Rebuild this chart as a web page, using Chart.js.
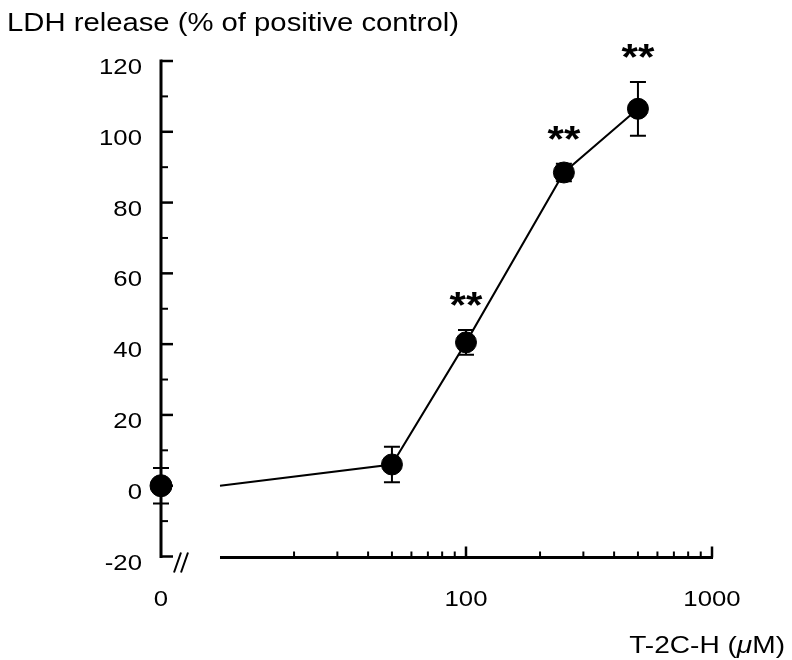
<!DOCTYPE html>
<html>
<head>
<meta charset="utf-8">
<script src="https://cdn.jsdelivr.net/npm/chart.js@4"></script>
<style>
  body { margin: 0; background: #fff; }
  canvas { display: block; }
</style>
</head>
<body>
<canvas id="ldh-chart" width="792" height="660"></canvas>
<script>
// T-2C-H concentrations (uM) and LDH release (% of positive control)
const doses = [50, 100, 250, 500];
const means = [6, 40.5, 88.5, 106.5];
const errors = [5, 3.5, 2.5, 7.6];
const marks = ['', '**', '**', '**'];

// control (0 uM) drawn on the y axis
const controlMean = 0;
const controlError = 5;

// start of the log part of the x axis (after the break)
const lineStartDose = 10;
const xMin = 5.757;
const xMax = 1000;

const yMajorTicks = [-20, 0, 20, 40, 60, 80, 100, 120];
const yMinorTicks = [-10, 10, 30, 50, 70, 90, 110];
const xMajorTicks = [100, 1000];
const xMinorTicks = [20, 30, 40, 50, 60, 70, 80, 90, 200, 300, 400, 500, 600, 700, 800, 900];
const xTickLabels = ['0', '100', '1000'];

const yTitle = 'LDH release (% of positive control)';

const FONT = '"Liberation Sans", Arial, Helvetica, sans-serif';
const SX = 1.17; // glyphs in the reference are a bit wide

function drawText(ctx, str, x, y, size, align, opts) {
  opts = opts || {};
  ctx.save();
  ctx.font = (opts.style || '') + ' ' + (opts.weight || 'normal') + ' ' + size + 'px ' + FONT;
  ctx.fillStyle = '#000';
  ctx.textBaseline = 'alphabetic';
  const w = ctx.measureText(str).width * SX;
  let left = x;
  if (align === 'right') left = x - w;
  else if (align === 'center') left = x - w / 2;
  ctx.translate(left, y);
  ctx.scale(SX, 1);
  ctx.textAlign = 'left';
  ctx.fillText(str, 0, 0);
  ctx.restore();
  return w;
}

function errorBar(ctx, px, yScale, mean, err) {
  const top = yScale.getPixelForValue(mean + err);
  const bot = yScale.getPixelForValue(mean - err);
  ctx.beginPath();
  ctx.moveTo(px, top); ctx.lineTo(px, bot);
  ctx.moveTo(px - 8, top); ctx.lineTo(px + 8, top);
  ctx.moveTo(px - 8, bot); ctx.lineTo(px + 8, bot);
  ctx.stroke();
  return top;
}

const axesPlugin = {
  id: 'brokenAxes',
  beforeDatasetsDraw(chart) {
    const ctx = chart.ctx;
    const x = chart.scales.x, y = chart.scales.y;
    const area = chart.chartArea;
    ctx.save();
    ctx.strokeStyle = '#000';
    ctx.lineCap = 'butt';

    // y axis
    ctx.lineWidth = 3;
    ctx.beginPath();
    ctx.moveTo(area.left, y.getPixelForValue(120) - 1.5);
    ctx.lineTo(area.left, y.getPixelForValue(-20) + 1.5);
    ctx.stroke();
    ctx.lineWidth = 2.5;
    yMajorTicks.forEach(v => {
      const py = y.getPixelForValue(v);
      ctx.beginPath(); ctx.moveTo(area.left, py); ctx.lineTo(area.left + 12, py); ctx.stroke();
      drawText(ctx, String(v), area.left - 19, py + 13, 22, 'right');
    });
    ctx.lineWidth = 2;
    yMinorTicks.forEach(v => {
      const py = y.getPixelForValue(v);
      ctx.beginPath(); ctx.moveTo(area.left, py); ctx.lineTo(area.left + 7, py); ctx.stroke();
    });

    // x axis (log part)
    const axisY = y.getPixelForValue(-20) + 1;
    ctx.lineWidth = 3;
    ctx.beginPath();
    ctx.moveTo(x.getPixelForValue(lineStartDose), axisY);
    ctx.lineTo(x.getPixelForValue(xMax) + 1, axisY);
    ctx.stroke();
    ctx.lineWidth = 2.5;
    xMajorTicks.forEach(v => {
      const px = x.getPixelForValue(v);
      ctx.beginPath(); ctx.moveTo(px, axisY); ctx.lineTo(px, axisY - 11); ctx.stroke();
    });
    ctx.lineWidth = 2;
    xMinorTicks.forEach(v => {
      const px = x.getPixelForValue(v);
      ctx.beginPath(); ctx.moveTo(px, axisY); ctx.lineTo(px, axisY - 6); ctx.stroke();
    });

    // axis break
    ctx.lineWidth = 2;
    ctx.beginPath();
    ctx.moveTo(area.left + 13, axisY + 15); ctx.lineTo(area.left + 20, axisY - 5);
    ctx.moveTo(area.left + 20, axisY + 15); ctx.lineTo(area.left + 27, axisY - 5);
    ctx.stroke();

    // x tick labels
    const labelX = [area.left, x.getPixelForValue(100), x.getPixelForValue(1000)];
    xTickLabels.forEach((t, i) => drawText(ctx, t, labelX[i], 606, 22, 'center'));

    // axis titles
    drawText(ctx, yTitle, 7, 31, 25, 'left');
    let tx = 785;
    const parts = [['M)', ''], ['\u03bc', 'italic'], ['T-2C-H (', '']];
    parts.forEach(p => {
      ctx.save();
      ctx.font = p[1] + ' 24px ' + FONT;
      const w = ctx.measureText(p[0]).width * SX;
      ctx.restore();
      tx -= w;
      drawText(ctx, p[0], tx, 653, 24, 'left', { style: p[1] });
    });

    // error bars and significance marks
    ctx.lineWidth = 2;
    errorBar(ctx, area.left, y, controlMean, controlError);
    doses.forEach((d, i) => {
      const px = x.getPixelForValue(d);
      const top = errorBar(ctx, px, y, means[i], errors[i]);
      if (marks[i]) {
        ctx.save();
        ctx.font = 'bold 36px ' + FONT;
        const m = ctx.measureText(marks[i]);
        ctx.restore();
        const h = m.actualBoundingBoxAscent - m.actualBoundingBoxDescent;
        const cy = top - 19;
        drawText(ctx, marks[i], px, cy + m.actualBoundingBoxAscent - h / 2, 36, 'center', { weight: 'bold' });
      }
    });
    ctx.restore();
  }
};

new Chart(document.getElementById('ldh-chart'), {
  type: 'line',
  data: {
    datasets: [
      {
        label: 'line',
        data: [{ x: lineStartDose, y: controlMean }].concat(doses.map((d, i) => ({ x: d, y: means[i] }))),
        borderColor: '#000',
        borderWidth: 2,
        pointRadius: 0,
        tension: 0,
        clip: false
      },
      {
        label: 'T-2C-H',
        data: doses.map((d, i) => ({ x: d, y: means[i] })),
        showLine: false,
        pointRadius: 10.5,
        pointBackgroundColor: '#000',
        pointBorderColor: '#000',
        pointBorderWidth: 1,
        clip: false
      },
      {
        label: 'control',
        data: [{ x: xMin, y: controlMean }],
        showLine: false,
        pointRadius: 11,
        pointBackgroundColor: '#000',
        pointBorderColor: '#000',
        pointBorderWidth: 1,
        clip: false
      }
    ]
  },
  options: {
    responsive: false,
    animation: false,
    devicePixelRatio: 1,
    layout: { padding: { left: 161, right: 80, top: 61, bottom: 103.5 } },
    scales: {
      x: { type: 'logarithmic', min: xMin, max: xMax, display: false },
      y: { type: 'linear', min: -20, max: 120, display: false }
    },
    plugins: {
      legend: { display: false },
      tooltip: { enabled: false }
    }
  },
  plugins: [axesPlugin]
});
</script>
</body>
</html>
